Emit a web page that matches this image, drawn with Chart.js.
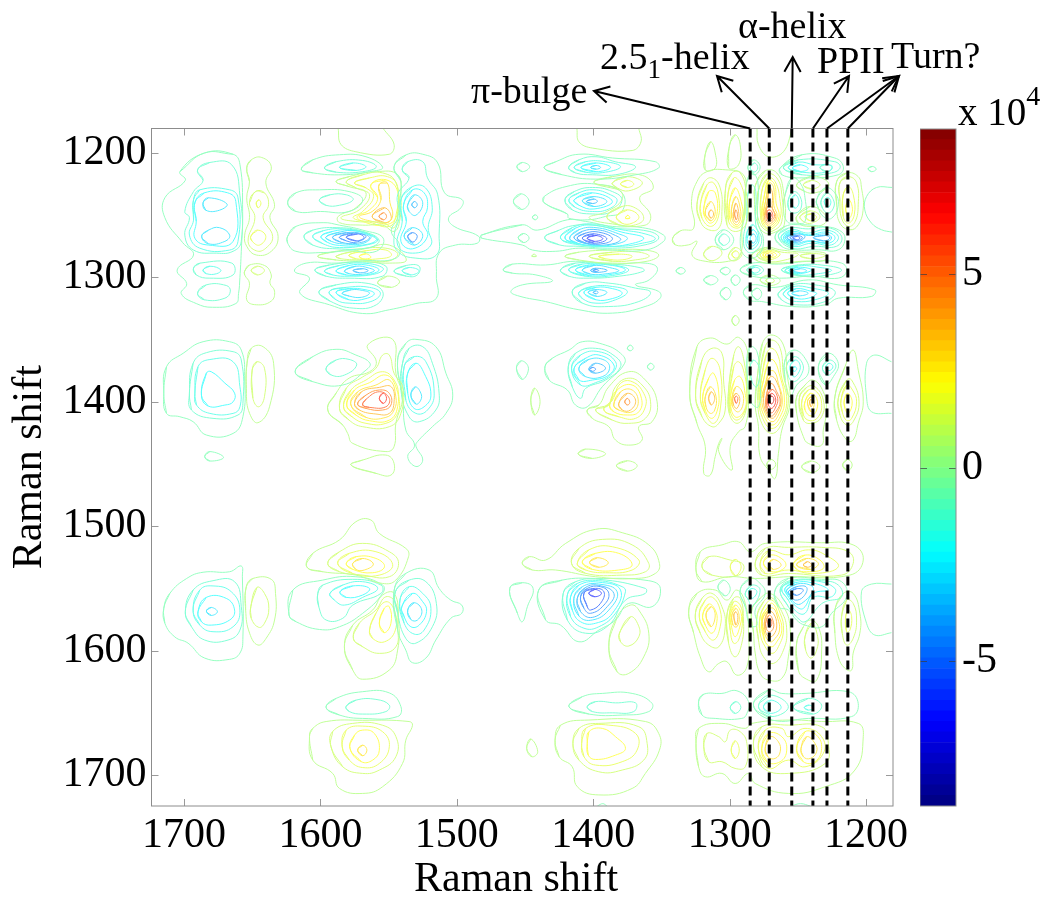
<!DOCTYPE html>
<html>
<head>
<meta charset="utf-8">
<title>Raman shift contour map</title>
<script src="https://cdn.jsdelivr.net/npm/chart.js@4"></script>
<style>
body { margin: 0; background: #fff; font-family: "Liberation Serif", serif; color: #000; }
#page { position: relative; width: 1050px; height: 907px; overflow: hidden; }
canvas { position: absolute; top: 0; }
.note { position: absolute; font-size: 38px; line-height: 40px; white-space: nowrap; }
.note sub { font-size: 27px; line-height: 0; }
.note sup { font-size: 28px; line-height: 0; vertical-align: 20px; }
</style>
</head>
<body>
<div id="page">
  <canvas id="graphContour" width="1050" height="907" style="left:0"></canvas>
  <canvas id="graphBar" width="130" height="907" style="left:920px"></canvas>
  <div class="note" style="left:471px;top:70px">π-bulge</div>
  <div class="note" style="left:600px;top:36px">2.5<sub>1</sub>-helix</div>
  <div class="note" style="left:738px;top:5px">α-helix</div>
  <div class="note" style="left:817px;top:40px">PPII</div>
  <div class="note" style="left:891px;top:35px">Turn?</div>
  <div class="note" style="left:958px;top:92px;font-size:39px">x 10<sup>4</sup></div>
  <div class="note" style="left:414px;top:857px;font-size:42px">Raman shift</div>
</div>
<script>
// every contour is [level, x,y, x,y, ...] in Raman shift units, level counts contour steps from zero
var helixShifts = [1285, 1271, 1254.5, 1239, 1228.7, 1213.4];
var xTickStep = 100;
var yTickStep = 100;
var xRange = [1180.3, 1723.8];
var yRange = [1180.3, 1724.9];
var levelStep = 0.55;
var deepLevelStep = 0.9;
var barRange = [-8.76, 8.76];
var barSteps = 64;
var barTickStep = 5;

var row1250Left = [
[-1,1685,1200,1664,1201,1659,1209,1657,1247,1658,1279,1659,1300,1660,1313,1662,1321,1679,1324,1691,1321,1702,1313,1698,1305,1705,1294,1693,1282,1701,1272,1714,1252,1714,1236,1699,1222,1703,1215],
[-2,1690,1213.5,1686,1222,1693,1231,1699.4,1247,1696,1252,1699.4,1266,1693,1278,1676,1280.5,1664,1279,1658,1271,1659,1234,1665,1209.5,1681,1207.6],
[-3,1693,1237.6,1688.4,1229.6,1666.5,1229.6,1660.4,1236,1660.4,1271,1666.5,1278,1688.4,1276.5,1696,1266,1693,1254],
[-4,1692,1240,1685,1232,1668,1232,1662,1239,1664,1271,1682,1274,1692,1268.5,1691,1255],
[-5,1686,1240,1682,1236,1668.5,1241,1674,1246,1684,1246],
[-5,1687,1267,1682,1262,1674,1260,1666.5,1266,1670,1271,1682,1273],
[-2,1693,1292.5,1688,1288.5,1665,1288.5,1664,1298,1681,1300.6,1691,1298],
[-3,1686,1294,1681,1291,1673,1294,1676,1297,1683.6,1297],
[-2,1690,1312.7,1683.6,1306,1669,1306.5,1666,1311,1670,1316.7,1685,1318],
[1,1654,1212,1650.7,1205.5,1643,1203.6,1636,1211,1640,1224,1633.6,1241.6,1637,1252,1631,1267,1636,1279,1647,1282,1654,1275,1655.5,1266,1652,1252,1654,1236,1652,1223],
[2,1647.5,1231,1641,1232,1638,1241.6,1642,1252,1635,1267,1640,1276.5,1647,1278.6,1653,1271,1648,1252,1652,1240],
[3,1647,1240,1645,1237.6,1643.6,1241,1645.8,1244],
[3,1651,1267,1646,1262,1640,1267,1644.6,1274,1650,1271],
[1,1655.5,1295,1652,1290,1641,1290.4,1636,1298,1637,1304.6,1633.6,1311,1636,1319,1647,1322,1654,1318,1652,1304.6,1655.5,1298],
[2,1650.7,1294.4,1646,1291,1641,1294.4,1646,1298]
];

var row1250Centre = [
[-1,1614,1213,1605.6,1205.5,1586,1201.4,1566.6,1203,1554.4,1211.6,1564,1215,1583.6,1217.5,1605.6,1216],
[-2,1597,1212,1588.5,1207,1569,1206,1559,1211,1569,1215,1588.5,1215.4],
[-3,1586,1211.6,1576,1208,1566.6,1211,1574,1214],
[-1,1546,1211,1537,1201.4,1525,1201,1514,1208,1509,1232,1496,1237.6,1497,1244,1506,1252,1502,1259,1484,1267,1485,1272.5,1501,1274,1513,1280.5,1515,1298,1515,1316.7,1530,1321,1549.5,1326,1569,1329,1593.4,1322,1615,1312.7,1608,1300.6,1619,1295,1610.5,1288.5,1588.5,1288.5,1569,1286.7,1544.6,1284.5,1542,1274,1548,1263,1543.4,1252,1542,1239,1541,1223],
[-2,1540,1213.5,1536,1207,1525,1207,1521.5,1220,1514,1233.6,1513,1266,1515,1282,1530,1284.5,1543.4,1279,1546,1267,1542,1250,1543.4,1233.6,1535,1220],
[-3,1541,1237.6,1532.5,1227,1523,1228,1518,1244,1521,1260,1519,1274,1532.5,1280.5,1543.4,1274,1540,1255],
[-4,1539,1241.6,1532.5,1229.6,1524,1232,1521.5,1244,1525,1255,1521.5,1267,1532.5,1277,1541,1271,1537,1255],
[-5,1536,1241.6,1531,1233.6,1525,1240,1530,1250,1535,1247],
[-5,1538.6,1267,1532.5,1260,1525,1266,1531,1274],
[-7,1536,1267,1532.5,1264,1529,1267,1532.5,1271.7],
[-6,1533,1241.6,1531,1239,1529,1241.6,1531,1244],
[-2,1546,1295,1537,1290.4,1527.6,1291,1529,1298,1537,1299],
[-3,1540,1294.7,1535,1292,1527.6,1294.7,1533.7,1298],
[1,1558,1304.6,1551,1299,1542,1303,1548,1308],
[-1,1624,1240,1618,1232,1600.7,1229.6,1579,1231,1569,1237.6,1579,1247,1600,1247,1618,1247],
[-2,1600.7,1237.6,1593,1233.6,1581,1233.6,1576,1237.6,1586,1242,1596,1242],
[-1,1624,1267,1618,1259,1598,1256,1586,1258,1569,1262,1554,1268.4,1559,1279,1579,1278.6,1598,1280,1618,1279,1624,1272.5],
[-2,1612,1267,1605.6,1262,1588.5,1260,1569,1263,1557,1270,1564,1276,1588.5,1277,1605.6,1274],
[-3,1605.6,1267,1598,1262.5,1583.6,1261,1566.6,1264.4,1558,1270,1566.6,1274,1586,1276,1598,1273],
[-4,1599.5,1267,1591,1263,1579,1262,1564,1266,1559,1270,1569,1274,1586,1274.3,1595,1271.7],
[-5,1596,1267.6,1586,1263.6,1574,1262.5,1563,1267,1569,1272.7,1583.6,1273,1592,1271],
[-6,1591,1267.6,1581,1264,1569,1265,1564,1268.4,1573,1272.5,1585,1271.7],
[-7,1586,1267.6,1576,1264.4,1566.6,1267,1574,1271.7,1581,1270.6],
[-8,1581,1267.6,1572.6,1265,1568,1268,1574,1270.6],
[1,1602,1283,1588.5,1279,1566.6,1276.5,1549.5,1274,1537,1286,1549.5,1288.5,1569,1287,1588.5,1286],
[2,1588.5,1283,1574,1278.6,1557,1276,1543.4,1280.5,1549.5,1286.7,1569,1286,1585,1285],
[3,1579,1282,1566.6,1278.6,1552,1278,1548,1282.4,1557,1285,1574,1285],
[4,1571.5,1283,1566.6,1281,1563,1284,1569,1285],
[-2,1604,1294,1593.4,1290,1569,1287.7,1552,1291,1554.4,1299,1579,1300.6,1596,1299],
[-3,1597,1294.7,1586,1290.4,1569,1288.5,1554,1292.6,1559,1297,1579,1299,1591,1298],
[-4,1588.5,1294.7,1579,1290.4,1566.6,1290,1557,1294,1566.6,1298,1581,1298],
[-5,1582.4,1294.7,1574,1291,1564,1292.6,1560.5,1294.7,1569,1297.4,1579,1297],
[-6,1576,1294.4,1569,1293,1565,1294.7,1571.5,1296.3],
[-2,1601,1311.3,1588.5,1306,1566.6,1304.6,1554.4,1311.3,1559,1322,1576,1324.7,1593,1319],
[-3,1593.4,1311.3,1581,1308,1564,1308,1556,1312.7,1563,1319.4,1579,1320.7,1588.5,1318],
[-4,1588.5,1312,1579,1309,1566.6,1310,1560.5,1313,1566.6,1317,1579,1318],
[-5,1584,1312.7,1577.6,1310,1569,1310.5,1564,1312.7,1570,1316,1579,1315],
[1,1588.5,1223,1579,1219,1559,1215,1543.4,1217.5,1541,1233.6,1542,1255,1546,1263,1554.4,1258,1569,1258,1586,1256,1587,1251,1574,1244,1566.6,1232,1579,1227],
[2,1581,1223,1569,1217.5,1554.4,1216,1544.6,1224,1543.4,1247,1546,1260,1554.4,1256,1574,1255,1585,1252,1571.5,1245.7,1564,1233.6,1574,1228],
[3,1575,1224,1564,1220,1550.8,1219,1543.4,1227,1544.6,1250,1549.5,1259,1564,1255.6,1576,1252,1569,1247,1561,1235,1566.6,1228],
[4,1563,1225.6,1552,1221.5,1543.4,1231,1544.6,1252,1554.4,1258,1569,1255,1573,1251,1564,1245.7,1558,1236],
[5,1557,1225.6,1551,1224,1549,1240,1547,1250,1551,1256,1562,1255,1571.5,1251,1562,1247,1555.6,1237.6],
[6,1562,1251,1553,1244,1548,1252.4,1553,1256],
[7,1557,1251,1553.7,1248,1551.5,1251,1553.7,1253.7]
];

var row1250Mid = [
[-1,1456,1211,1452,1207.6,1446.6,1211,1452,1215],
[-1,1436,1212,1427.5,1207,1410.5,1201,1386,1204,1354.5,1207,1352,1212,1369,1217.5,1398,1221,1422.7,1217.5],
[-2,1418,1211.6,1410.5,1205.5,1398,1203,1384,1207,1369,1211,1381,1217,1400.7,1217.5,1413,1216],
[-3,1414,1211.6,1405.6,1207,1391,1207,1380,1211,1391,1215.4,1405.6,1215.4],
[-4,1409,1211.6,1398,1208,1387.3,1211.6,1398,1215],
[-5,1402,1211.6,1398,1210,1394.6,1211.6,1398,1213],
[1,1399.5,1223.7,1386,1219,1364,1218,1356,1228,1366,1236,1358,1250,1362,1258,1386,1257,1403,1252,1390,1247,1379,1237.6,1381,1229.6],
[2,1386,1224,1375,1219,1364,1224,1374,1230.4,1382.5,1228],
[3,1380,1224.8,1375,1222,1370.3,1225,1375,1227.7],
[2,1390,1251,1379,1243,1369,1244.3,1363,1252.4,1369,1257.7,1381.3,1257.7],
[3,1383,1251,1375,1245.7,1366.6,1251,1371.5,1256.4,1379,1256.4],
[4,1376.4,1252.4,1374.7,1250,1373.2,1252.4],
[-1,1436,1240,1436,1235,1420,1227,1398,1225,1379,1232,1379,1247,1391,1251,1404,1253.7,1418,1252.4,1419,1249],
[-2,1420.7,1237.6,1414,1231,1400.7,1227.7,1386,1231,1379,1237.6,1386,1247,1400.7,1249,1415.4,1245.7],
[-3,1417.8,1237.6,1410.5,1232,1399.5,1229.6,1387.3,1233.6,1382.5,1238.4,1388.6,1245,1400.7,1247,1413,1243.8],
[-4,1414,1237.6,1400.7,1232,1386,1239,1399.5,1245,1410.5,1242],
[-5,1408,1238.4,1399.5,1235,1390,1239,1399.5,1243],
[-6,1405,1239,1399.5,1237,1397,1239,1400.7,1240.6],
[-1,1458.5,1239,1453,1232.8,1447,1239,1452.4,1245.4],
[-1,1444.6,1251.6,1442.6,1249.7,1440.7,1251.6,1442.6,1253.7],
[-1,1482,1266,1452,1257.7,1441,1262,1419,1253.7,1405.6,1255,1386,1259,1364,1260,1348.4,1266,1348.4,1271,1362,1278,1386,1278,1410.5,1276.5,1427.5,1279,1444.6,1278,1452,1274,1482,1268.4],
[-1,1455,1268,1451,1264.7,1447,1268.4,1451,1272],
[-2,1435.6,1268,1425,1262,1415.4,1258.5,1403,1257.7,1386,1260.4,1359,1263,1352,1268.4,1362,1273.8,1386,1276.5,1410.5,1275,1425,1273.8],
[-3,1424,1268.4,1415.4,1260,1400.7,1257,1379,1261.7,1362,1265,1354.5,1269,1364,1272.5,1381,1275,1410.5,1273.8],
[-4,1420.7,1268.4,1413,1260.4,1399.5,1258,1379,1263.6,1363,1268.4,1376,1273.8,1393,1275,1410.5,1273],
[-5,1417.3,1268.4,1410.5,1261.7,1398,1260,1381.3,1265,1375,1269,1386,1273.8,1400.7,1274.3,1411.7,1272.5],
[-6,1414,1268.4,1408,1263,1397,1261.7,1383.7,1266.3,1380,1270,1390,1273.8,1403,1273.3],
[-7,1411.7,1268.4,1405.6,1264.4,1396,1263.6,1386,1268.4,1391,1272.5,1405.6,1272.5],
[-8,1408,1268.4,1399.5,1265,1390,1269,1399.5,1272.5],
[-9,1404.4,1268.4,1398,1266.3,1393,1269,1399.5,1271],
[1,1420.7,1283,1410.5,1279.7,1386,1278,1362,1278,1352,1282,1360.5,1287,1386,1288.5,1410.5,1286],
[2,1403,1283,1386,1279.7,1366.6,1279.7,1359,1283,1369,1285.9,1386,1287],
[3,1396,1283,1381,1281.3,1371.5,1283,1378.8,1285.9,1391,1285],
[1,1445,1283,1443.4,1281.3,1441.7,1283],
[-1,1466,1294,1459.2,1289.3,1435,1290,1413,1287,1386,1289.3,1362,1288.5,1353,1292.6,1359,1302,1369,1306,1352,1311.3,1351,1316.7,1362,1323.4,1386,1328.7,1410.5,1326,1435,1319.4,1454.4,1315,1460.4,1311.3,1452,1306,1430,1303,1442,1298,1459.2,1296.6],
[-2,1424,1294,1413,1288.5,1386,1289.3,1364,1292.6,1363,1295,1381,1299,1403,1300.6,1418,1299],
[-3,1418,1294,1408,1289.3,1386,1290,1374,1294,1386,1298.5,1405.6,1299],
[-4,1413,1294,1403,1290,1386,1290.4,1376.4,1294,1386,1297.4,1403,1298.5],
[-5,1408,1294,1399.5,1290.4,1386,1292.6,1381.3,1294.7,1389.8,1297,1402,1297.4],
[-6,1402,1294.4,1398,1292.6,1389.8,1294.4,1398,1296],
[-7,1400,1294.4,1398,1293.6,1396,1294.4,1398,1295.2],
[-1,1339.3,1294.7,1336,1292,1332.5,1294.7,1336,1297.4],
[-2,1415.4,1311.3,1405.6,1304.6,1388.6,1304.6,1369,1308.6,1358,1312,1366.6,1319.4,1388.6,1323.4,1408,1320.7],
[-3,1410.5,1312,1400.7,1307.3,1386,1307.3,1375,1311.3,1383.7,1318,1398,1320.7,1408,1317],
[-4,1406.8,1312,1398,1308,1386,1309,1378.8,1312.7,1386,1317,1398,1318],
[-5,1403.7,1312,1398,1309.7,1390,1312,1397,1315.3],
[-6,1400,1312,1398,1310.8,1396.4,1312,1398,1313.2]
];

var row1250Right = [
[1,1318,1201.4,1314,1191,1310.6,1200,1310.6,1212,1318,1213.5],
[1,1300,1193.4,1296,1185.4,1292.3,1193.4,1293.5,1209.5,1300.8,1212],
[1,1341.8,1268.4,1336,1262.5,1326.4,1260.4,1328,1239,1324,1223,1316.7,1215,1303.3,1213.5,1290,1217.5,1288.6,1233.6,1291,1260.4,1292.3,1282,1300.8,1287,1318,1287,1327.6,1282,1324,1271,1330,1273.8,1340,1273.8],
[2,1324,1241.6,1319,1224,1313,1220,1307,1228,1305.7,1247,1308,1260.4,1315.5,1261.7,1321.5,1255],
[3,1321.5,1241.6,1316.7,1225.6,1311.8,1224,1308,1236,1308.6,1252.4,1314,1259,1320.3,1252.4],
[4,1319,1244.3,1315.4,1231,1310.6,1232,1309.4,1249.7,1314,1256.4,1318.4,1251],
[5,1318,1248.3,1314,1239,1310.6,1247,1313.7,1254.5],
[6,1315.4,1249,1313.7,1245.7,1311.8,1249,1313.7,1252.4],
[2,1303,1228,1298.4,1216,1292.3,1216,1288,1231,1287.4,1255,1294.7,1263,1302,1257.7],
[3,1301.3,1233.6,1297,1220,1292.3,1224,1289,1239,1290,1255,1294.7,1260.4,1300.8,1255],
[4,1300,1239,1296,1228,1291.6,1239,1290.6,1252.4,1294.7,1259,1299.6,1253.7],
[5,1298.4,1243,1295.5,1235,1292.3,1244.3,1292.3,1253.7,1295.2,1257.7,1298.4,1252.4],
[6,1297.2,1247,1295.5,1240.3,1293.5,1247,1293.5,1253.7,1295.5,1255.6,1297.2,1252.4],
[7,1296.4,1249,1295.5,1245.7,1294.3,1249.7,1295.2,1253.7],
[-1,1310.6,1269.8,1304.5,1261.7,1297,1269.8,1304.5,1277.8],
[-2,1308,1269.8,1304.5,1265,1300,1269.8,1304.5,1274.3],
[2,1319,1280.5,1313,1275,1305.7,1279.7,1310.6,1286,1316.7,1285.3],
[2,1300.8,1282,1296,1276,1291,1280.5,1294.7,1286,1299.6,1286],
[3,1298.4,1281.3,1295.5,1278.6,1293,1282,1296,1284.5],
[-1,1288,1225.6,1283.8,1216,1279.4,1223,1279.4,1255,1275.2,1271,1280,1283,1288.6,1283,1292.3,1271,1289,1249.7],
[-2,1286.7,1233.6,1283.8,1225.6,1280.9,1231,1280.9,1257.7,1276.5,1269.8,1281.3,1279,1287.4,1279,1289.9,1269.8,1287.4,1252.4],
[-3,1286,1260.4,1282.6,1257.7,1278.4,1268.4,1281.8,1276.5,1286.7,1276.5,1288,1268.4],
[-4,1285.5,1264.4,1282.6,1261.7,1279.4,1268.4,1282.3,1274.3,1286,1273.8,1287.2,1268.4],
[-5,1285,1268.4,1282.6,1265,1280.6,1269,1283,1272.5],
[-1,1286.7,1212,1282.6,1205.5,1277.7,1211,1281.8,1217.5],
[-2,1285,1212,1281.8,1208,1279.4,1212,1282.3,1215.4],
[-1,1263,1212,1247,1201.4,1223,1204,1216.7,1211,1220.4,1217.5,1247,1220,1261.8,1217.5],
[-2,1260.6,1212,1249.7,1205.5,1223,1207,1219,1211.6,1225.3,1216,1247,1217.5],
[-3,1257,1212,1249.7,1207.3,1237.5,1209.5,1225.3,1210,1227.7,1215,1247,1215.4],
[-4,1254,1212,1248.4,1209.5,1242.4,1212.7,1248.4,1214.8],
[-2,1233.8,1211.6,1229,1209,1224.8,1212,1229,1215],
[-1,1198.5,1212.7,1195.5,1210.8,1192.6,1213,1196,1215],
[1,1281,1225.6,1274,1214.3,1265.5,1216,1260.6,1231,1260,1257.7,1265.5,1263,1274,1264.4,1280,1255,1281.8,1239],
[2,1278.4,1228,1272.8,1217,1265.5,1220,1261.8,1233.6,1261.8,1255,1266.7,1261.7,1272.8,1262.5,1278.4,1255,1280,1241.6],
[3,1276.5,1231,1272,1220,1266.7,1223,1263,1239,1263,1252.4,1268,1260.4,1272.8,1261,1277,1253.7],
[4,1274.5,1233.6,1271.6,1222,1267,1225.6,1266,1240.3,1263.8,1251,1268.7,1259.3,1272.8,1260,1276.5,1251],
[5,1273.5,1237.6,1271,1224,1267.7,1228,1267.7,1242,1265.2,1251,1269,1257.7,1272.8,1258,1275.5,1251],
[6,1272.6,1240.3,1270.9,1227.7,1268.7,1232,1268.7,1244.3,1266.2,1251,1269.6,1256.4,1272.8,1256.6,1274.5,1250.2],
[7,1272.8,1244.3,1271,1242,1268.2,1245.7,1267.2,1251,1270,1255,1272.6,1255,1273.5,1249.7],
[8,1272.6,1247,1270.6,1245.7,1268.7,1248.3,1268.7,1251.8,1270.4,1253.7,1272.3,1253],
[9,1271.8,1249,1270.6,1248,1269.4,1250.2,1270.9,1251.8],
[1,1283.8,1282,1274,1276,1261.8,1278,1247,1279.7,1230,1280.5,1230,1286,1247,1287,1266.7,1288.5,1279,1287],
[2,1280,1282,1272.8,1277,1261.8,1279.7,1249.7,1281.3,1259.4,1286,1272.8,1287],
[3,1277.7,1282,1271.6,1278.4,1263,1281.3,1271.6,1286],
[4,1275.7,1282,1271.6,1279,1265.5,1282,1271.6,1284.5],
[5,1274,1282,1271,1280.2,1268,1282,1271.6,1283.7],
[2,1248.4,1282.6,1240,1280.8,1230,1282.4,1240,1285],
[-1,1266.7,1267,1259.4,1259,1247,1257.7,1232.6,1259,1220.4,1261.7,1215.5,1268.4,1220.4,1277.8,1235,1277.8,1252,1277.8,1262,1275],
[-2,1264.3,1267,1257,1260.4,1242.4,1261,1227.7,1260,1218,1267,1221.7,1275,1237.5,1275,1254.5,1276.5],
[-3,1262.3,1268,1254.5,1261.7,1242.4,1264.4,1230,1261.7,1220.4,1267,1225.3,1273.8,1240,1272.5,1253.3,1275],
[-4,1260.6,1268,1253.3,1263,1242.4,1265.8,1229,1263.6,1222.8,1268,1227.7,1272.5,1241,1271,1253.3,1273.8],
[-5,1259.4,1268,1252,1264.4,1242.4,1266.3,1229,1265.2,1225.3,1268.4,1230,1271.7,1242.4,1270.6,1252,1272.5],
[-6,1258,1268,1251.6,1265.2,1244.8,1267,1251,1271.7],
[-7,1255.7,1268,1250.9,1266.3,1246.7,1268,1250.9,1270.6],
[-8,1253.8,1268,1250.4,1267,1248.5,1268.4,1250.9,1269.8],
[-6,1238.7,1268,1230,1266.3,1226.5,1268.4,1231.4,1270.6],
[-1,1259.4,1233.6,1254.5,1220,1248.4,1224,1244.8,1236,1244.8,1255,1252,1256.4,1258,1255,1260.6,1244],
[-2,1257,1237.6,1253.3,1231,1248.4,1235,1247.7,1244.3,1252,1248.3,1256.5,1245.7],
[-3,1255.3,1239,1252,1233.6,1249.2,1239.5,1252,1244.3],
[1,1250.9,1251,1241,1243,1230,1249.7,1230,1256.4,1241,1259,1249.7,1256.4],
[2,1248.4,1251,1241,1246.5,1233.8,1251,1240,1256.4,1246,1255],
[3,1244.8,1251,1240.4,1248.9,1236.3,1251.8,1241,1254.5],
[1,1250.9,1225.6,1241,1219,1230,1221.5,1227.7,1227,1237.5,1232,1244.8,1231],
[2,1246,1225.6,1240,1222,1233.8,1225.6,1240,1229],
[-1,1236.3,1237.6,1230,1228,1223,1232,1220.4,1241.6,1225.3,1252.4,1231.4,1251,1235,1244.3],
[-2,1233,1238.4,1228.9,1232,1224,1237.6,1224,1244.3,1228,1248.3,1232,1244.3],
[-3,1230.7,1239,1228.2,1235.7,1225.8,1239.5,1228.2,1243.8],
[1,1221.6,1223,1214.3,1216,1205.8,1219,1203.4,1228,1202.1,1244.3,1205.8,1257.7,1211.8,1261.7,1219.2,1256.4,1221.6,1241.6],
[2,1219.2,1224,1213,1219,1207,1224,1205.8,1241.6,1208,1255,1213,1259,1218,1252.4,1219.2,1239],
[3,1216.8,1233.6,1213,1227,1209.4,1233.6,1208.7,1249.7,1213,1256.4,1216.8,1251],
[4,1215,1244.3,1212.6,1237.6,1210,1245.7,1212.6,1252.4],
[-1,1292.3,1294,1283.8,1288.5,1264.3,1289.3,1240,1287,1218,1288.5,1214.3,1295,1220.4,1300.6,1240,1299,1261.8,1300.6,1283.8,1299],
[-2,1287.4,1294,1280.9,1290.4,1275.2,1294,1280.9,1298],
[-3,1285,1294,1281.3,1291.8,1277.7,1294,1281.8,1296.6],
[-2,1262,1294,1249.7,1290,1230,1290.4,1218,1294,1227.7,1298,1247,1299],
[-3,1259.4,1294.4,1249.7,1290.7,1233.8,1292,1225.3,1294.4,1235,1297,1249.7,1298],
[-4,1256.5,1294.4,1249.7,1291.8,1240,1294,1249.7,1297],
[-5,1253.3,1294.7,1248.4,1293,1243.6,1294.7,1248.4,1296.3],
[-1,1319,1302,1314,1298.5,1308.6,1302,1314,1306],
[-1,1307,1294.7,1303,1291.8,1299.6,1294.7,1303,1298],
[-1,1299,1302,1296,1298,1292.3,1302,1296,1306.5],
[-1,1307,1312.7,1302.8,1308,1299,1312.7,1302.8,1318],
[1,1277.7,1302,1270.4,1298,1263,1302.7,1270.4,1306.5],
[2,1273.5,1302.5,1270.4,1300.3,1267.2,1302.7,1270.4,1304.6],
[-1,1289.9,1311.3,1283.8,1306,1266.7,1308,1242.4,1302,1220.4,1306,1193.6,1310,1196,1315.3,1220.4,1316.7,1230,1322,1254.5,1323.4,1276.5,1319.4,1286,1318],
[-2,1264.3,1312.7,1254.5,1306,1237.5,1306,1222.8,1311.3,1230,1319.4,1252,1322,1262,1318],
[-3,1260.6,1312.7,1253.3,1307.3,1240,1308.6,1227.7,1312.7,1237.5,1318,1251,1319.4,1258,1316.7],
[-4,1257.5,1312.7,1251,1309,1240,1311.3,1236.3,1313,1242.4,1316.7,1252,1316.7],
[-5,1254.5,1312.7,1249,1310.8,1242.4,1312.7,1249,1314.8],
[-1,1284,1312.7,1280,1308.6,1276.5,1313,1280,1318],
[1,1298.4,1334.6,1296,1330.6,1293,1334.6,1296,1338.7]
];

var row1400Left = [
[-1,1714.8,1393,1712.8,1371.8,1700.6,1361,1686,1351.7,1666.5,1351.7,1658,1358.4,1655.5,1382.5,1656.8,1412,1664,1425.4,1683.6,1426.7,1693.3,1416,1703,1412,1712.8,1409.3],
[-2,1696,1393,1693.3,1369,1683.6,1360.5,1664,1359.7,1658,1366.4,1656.8,1401.3,1660.4,1410.6,1678.7,1413.3,1694.5,1406.6],
[-3,1692,1393,1689.7,1371.8,1681,1366,1664,1367.8,1659,1387.9,1659,1404,1664,1409.3,1681,1409.3,1690.8,1402.6],
[-4,1687.2,1394.6,1683.6,1377,1680,1375.8,1670,1385,1662.9,1393,1664,1400,1670,1402.6,1682.3,1403.4],
[-1,1684.8,1444,1681,1440,1671,1444.7,1681,1447.6],
[1,1653.8,1369,1650.7,1357,1642,1355.7,1634.3,1369,1637.3,1404,1645.8,1416.8,1651.9,1409.3,1654.3,1393],
[2,1650,1374.5,1646.5,1367.8,1641,1373,1641,1395.9,1645.3,1404,1649.5,1397],
[-1,1618.5,1375.8,1605.6,1363.7,1588.5,1357.8,1574,1362.4,1563.7,1369,1566.6,1374.5,1583.6,1386.5,1605.6,1383.8],
[-2,1595.8,1373,1588.5,1366.4,1579,1365.9,1573.4,1370.4,1582.4,1378.5,1592,1378.5],
[1,1594.6,1406.6,1588.5,1393,1579,1381,1564,1375.8,1559,1367.8,1565.4,1354.4,1547,1349.8,1544.7,1377,1539.8,1396,1544.7,1417.3,1546,1436,1552,1440,1576.3,1433.4,1580,1425.4,1583.6,1418.7],
[2,1586,1405.3,1581,1389,1569,1380,1559.3,1373,1554.4,1362.4,1549.5,1362.4,1546,1377,1539.8,1387.9,1541,1409.3,1549.5,1420,1569,1420,1579,1414.7],
[3,1583,1404,1577.6,1390.5,1566.6,1382.5,1554.4,1375.8,1546,1382.5,1542.5,1396,1543.4,1409.3,1552,1417.3,1566.6,1417.3,1576.3,1412.5],
[4,1580.7,1402.6,1575,1390.5,1564,1384.6,1552,1378.5,1544.7,1388,1543.4,1404,1549.5,1414.7,1564,1415.2,1574,1410.6],
[5,1577.6,1402.6,1572.7,1392,1559.3,1386.5,1549.5,1382.5,1544.7,1396,1546,1406.6,1552,1412.5,1566.6,1412.5],
[6,1575,1401.3,1570,1392,1556.8,1388.4,1548,1388,1546,1400,1549.5,1409.3,1559.3,1409.8,1571.5,1406.6],
[7,1572.7,1401.8,1566.6,1394.6,1556.8,1390.5,1549.5,1393.2,1548.3,1402.6,1554.4,1406.6,1566.6,1405.3],
[8,1569,1402.6,1566.6,1398,1556.8,1391.9,1549.5,1397.2,1552,1404,1564,1404.5],
[9,1556.8,1397.2,1554,1393,1551.5,1397.2,1554,1401.3],
[-1,1543.4,1366.4,1537.4,1353,1530,1349.8,1515.4,1355.7,1508,1377,1503,1394.6,1508,1409.3,1517.9,1420,1528.8,1432,1530,1435.6,1525,1446.8,1530,1452,1536,1444,1531,1434.8,1537.4,1422.7,1539.8,1396],
[-2,1539.8,1369,1535,1357,1525,1355.7,1517.9,1369,1513,1393,1515.4,1406.6,1527.6,1416,1535,1412,1541,1390.5],
[-3,1538.6,1371.8,1531.3,1363.7,1522.7,1367.8,1516.6,1393,1521.5,1406.6,1530,1409.3,1537.4,1398.6],
[-4,1536,1377,1530,1369,1524,1377,1519,1394.6,1524,1404,1531.3,1405.3,1536,1393],
[-5,1533.7,1394.6,1530.5,1388,1526.4,1393,1526.4,1398.6,1530,1401.8],
[1,1577.6,1450.8,1569,1446.8,1552,1442.8,1546,1449.5,1548.3,1458.9,1559.3,1457.5]
];

var row1400Mid = [
[-1,1456.3,1373,1452.7,1367,1447.5,1373,1452,1382],
[1,1445.8,1398.6,1443,1389,1439,1400,1443,1410.6],
[-1,1375,1357,1373,1354.4,1370.8,1357,1373,1359],
[-1,1360.3,1371.8,1358,1369,1355.4,1371.8,1358,1374.5],
[-1,1435.4,1371.8,1430,1365,1417.8,1358.4,1408,1351.7,1393.4,1353.6,1380,1361,1377,1369,1393.4,1387.9,1404.4,1404,1413,1402.6,1419,1390.5,1432.4,1382.5],
[-2,1418.3,1371.8,1413,1361,1398.3,1357,1383.7,1363.7,1380,1371.8,1391,1382.5,1405.6,1389.2,1409.3,1397.2,1415.4,1387.9],
[-3,1415.9,1373,1409.3,1362.4,1395.9,1359.7,1383.7,1367.8,1386,1377,1398.3,1384.6,1409.3,1386.5],
[-4,1414,1373,1405.6,1365,1395.9,1362.4,1384.9,1370.4,1388.6,1378.5,1400.7,1382.5,1410.5,1382.5],
[-5,1410.5,1373,1403.2,1365.9,1392,1366.4,1388,1373,1393.4,1379.8,1405.6,1379.8],
[-6,1403.2,1373.9,1398.3,1369,1391,1373,1398.3,1377],
[-7,1402.7,1373.9,1400.3,1372.3,1398.3,1373.9,1400.7,1375.5],
[1,1404.4,1406.6,1395.9,1402.6,1388.6,1387.9,1374,1375.8,1361.8,1382.5,1353.2,1400,1356.9,1416,1366.6,1420,1364.2,1430.7,1374,1434.8,1383.7,1430.7,1388.6,1420,1400.7,1413.3],
[2,1398.3,1406.6,1388.6,1402.6,1383.7,1387.9,1374,1381,1364.2,1386.5,1358,1400,1361.8,1413.3,1374,1417.3,1386,1414.7],
[3,1392.2,1406.6,1386,1398.6,1380,1385.2,1371.5,1383.8,1363,1393.2,1361.8,1404,1369,1413.3,1381.3,1412],
[4,1388,1402.6,1382.5,1390.5,1371.5,1386.5,1364.7,1397.2,1366.6,1408,1375,1410.6,1385,1408],
[5,1385,1402.6,1380,1392,1371.5,1390.5,1367,1400,1371.5,1408,1381.3,1406.6],
[6,1381.3,1401.3,1375,1393.2,1369,1398.6,1372.7,1406.6,1378.8,1406.6],
[7,1376.9,1400,1375,1397.2,1373.2,1400.5,1375,1402.6],
[1,1411,1442,1405.6,1438,1391,1441.5,1400.8,1445.5],
[1,1383,1451.4,1375,1447.4,1367.8,1451.4,1375,1455.7]
];

var row1400Right = [
[1,1329.3,1393.2,1324,1355.7,1314.2,1348.7,1302,1353.6,1293.5,1348.2,1286.7,1361,1286,1396,1288.7,1420,1293.5,1424,1299.6,1436,1298.4,1454.9,1308,1440,1305.7,1429.4,1308,1433.4,1310.6,1444,1314.2,1458.9,1319,1457.5,1317.9,1436,1324,1417.3],
[2,1325,1394.6,1320.3,1366.4,1313,1357,1305.7,1361,1304.5,1382.5,1303.3,1406.6,1308,1417.3,1313,1420,1320.3,1412],
[3,1321.5,1396,1318,1374.5,1313,1365,1307,1374.5,1307,1406.6,1311.8,1417.3,1318,1409.3],
[4,1319.8,1396,1315.4,1381,1311.8,1377,1308,1393,1309.4,1408,1313.5,1413.3,1318,1406.6],
[5,1317.9,1396,1314.2,1387.9,1310,1396,1311,1406.6,1314.2,1409.3,1317.4,1404],
[6,1315.4,1397.2,1313.5,1391.9,1311,1397.2,1313.5,1402.6],
[2,1300.8,1390.5,1297,1362.4,1293.5,1355.7,1289.9,1365,1287.4,1390.5,1288.7,1409.3,1294.7,1417.3,1300.3,1409.3],
[3,1300.3,1396,1297,1371.8,1293.5,1367.8,1289.9,1374.5,1287.4,1393.2,1288.7,1406.6,1294.7,1414.7,1299.6,1408],
[4,1299.6,1397.2,1296.4,1382.5,1292.3,1379.8,1288.7,1393.2,1288.7,1405.3,1294.7,1412.5,1298.9,1406.6],
[5,1298.4,1397.2,1295.5,1387.9,1291.5,1390.5,1289.9,1400,1293.5,1408,1297.9,1404],
[6,1297.7,1397.2,1295.5,1393.2,1292.6,1397.2,1294.7,1405.3,1297.2,1402.6],
[8,1296.4,1397.2,1295.2,1395.4,1294,1397.2,1295.2,1401.3],
[-1,1287.4,1369,1285,1355.7,1280,1359.7,1277.7,1382.5,1278.9,1404,1285,1398.6],
[-2,1285,1371.8,1282.6,1366.4,1278.4,1373,1280,1387.9,1283.7,1383.8],
[1,1279.4,1377,1276,1353,1269,1346.3,1260.6,1354.4,1258,1377,1255.8,1401.3,1261.8,1422.7,1264.3,1441.5,1266.7,1461.6,1271.6,1454.9,1277.7,1444,1278.9,1420,1281.3,1401.3],
[2,1277.7,1377,1274,1355.7,1269,1350.3,1263,1357,1260.6,1378.5,1257,1398.6,1261.8,1417.3,1269,1425.4,1276.5,1417.3,1279.4,1398.6],
[3,1276,1377,1272.8,1361,1269,1357,1264.3,1363.7,1262.3,1378.5,1258.2,1398.6,1262.3,1414.7,1269,1421.4,1275.2,1414.7,1278.4,1398.6],
[4,1275.2,1382.5,1271.6,1367.8,1268,1366.4,1263.8,1377,1259.9,1398.6,1263,1412,1269,1418.7,1274.5,1412,1277.7,1397.2],
[5,1274,1386.5,1271,1375.8,1267.2,1375.8,1264.3,1385.2,1261.4,1398.6,1264.3,1410.6,1269,1416,1274,1409.3,1276.5,1397.2],
[6,1274,1389.2,1270.3,1379.8,1266.2,1382.5,1262.3,1398.6,1265.5,1409.3,1269,1413.3,1273.5,1408,1275.2,1397.2],
[7,1272.8,1393.2,1269.6,1385.2,1265.5,1391.9,1263,1400,1266.2,1408,1269.6,1411.4,1273.3,1405.3],
[8,1272.8,1396,1269,1390,1264.8,1397.2,1266.7,1405.3,1269.6,1408.8,1272.8,1402.6],
[9,1272,1397.2,1269,1393.2,1266.2,1398.6,1269,1405.3,1271.6,1402.6],
[10,1271,1397.2,1269,1395.4,1267.6,1398.6,1269.6,1401.8],
[-1,1259.4,1366.4,1253.3,1358.4,1244.8,1365,1242.4,1377,1250.9,1386.5,1255.8,1396,1259.4,1382.5],
[-2,1258.2,1370.4,1252.6,1363.7,1246.7,1369,1247,1377,1252.6,1383.8,1257,1379.8],
[-3,1255.8,1371.8,1252,1366.4,1248.4,1370.4,1249.7,1377,1253.3,1379.8],
[-4,1254,1373,1252,1371.8,1250.9,1373.9,1253,1375.5],
[-1,1235,1371.8,1227.7,1361,1220.4,1369,1224,1379.8,1230,1386.5],
[-2,1232,1372.3,1227.2,1366.4,1222.2,1370.4,1225.3,1377,1229,1378.5],
[-3,1229.7,1372.3,1227.2,1369,1224.3,1371.8,1227.2,1375],
[1,1250.9,1396,1244.8,1386.5,1238.7,1382.5,1231.4,1391.9,1229,1406.6,1231.4,1422.7,1232.6,1434.8,1242.4,1433.4,1246,1428,1250.9,1409.3],
[2,1249,1397.2,1243.6,1388.4,1237.5,1387.9,1231.4,1398.6,1232.6,1412,1240,1417.3,1246,1414.7],
[3,1247,1398.6,1242.4,1390.5,1236.3,1391.9,1232.6,1401.3,1235,1412,1241,1415.2,1246,1410.6],
[4,1244.8,1400,1241,1393.2,1236.3,1397.2,1236.3,1406.6,1240.4,1411.4,1244.8,1406.6],
[5,1243,1400,1240.4,1396,1238,1400.7,1240.4,1408],
[6,1241.4,1400,1240.4,1398,1239.2,1400.7,1240.4,1404],
[1,1222.9,1396,1215.5,1371.8,1209.5,1358.4,1205.8,1374.5,1202.1,1400,1205.8,1417.3,1209.5,1430.7,1214.3,1430.7,1221.6,1414.7],
[2,1220.4,1397.2,1214.3,1382.5,1210.6,1382.5,1205.2,1400,1209.5,1416,1214.3,1418.7,1219.2,1410.6],
[3,1218.4,1398.6,1214.3,1386.5,1210,1390.5,1207,1400,1210.6,1413.3,1214.3,1415,1217.5,1408],
[4,1216,1398.6,1213.6,1393.2,1210.2,1400,1213,1409.3,1215.5,1405.3],
[1,1272.8,1450.3,1269.6,1446.3,1266.2,1450.3,1269.6,1454.3],
[1,1247.2,1452.2,1240.4,1447.6,1233.8,1452.2,1240.4,1457],
[1,1217.2,1450.8,1213.6,1446.3,1210.2,1450.8,1213.6,1455.4]
];

var row1570Left = [
[-1,1714.8,1566,1710.4,1554,1698,1542,1686,1537,1666.5,1536.6,1658,1532,1657.2,1540.6,1656.8,1589,1659,1602,1666.5,1607,1684.8,1606,1697,1594,1706.7,1589,1714,1578],
[-2,1699,1568.7,1693.3,1551.3,1678.7,1543.8,1662.9,1544.6,1658,1564.7,1659,1583.5,1667.7,1591.5,1684.8,1591.5,1694.5,1580.8],
[-3,1693.3,1567.4,1688.4,1551.3,1678.7,1548,1665.3,1552.7,1659,1567.4,1664,1580.8,1678.7,1584.8,1688.4,1579.5],
[-4,1689.7,1568.7,1683.6,1557.2,1669,1558,1662.9,1567.4,1666.5,1575.4,1680,1579.5,1687.2,1576.8],
[-5,1683.6,1568.2,1680,1565.3,1675.5,1568.7,1680,1571.7],
[1,1654.3,1548.6,1649.5,1542,1636,1542.7,1632.9,1554,1633.6,1575.4,1639.7,1590,1645.8,1595.5,1651.9,1586,1654.8,1567.4],
[2,1651,1564.7,1646.5,1549.2,1641,1554,1637.8,1566,1641,1578,1645.2,1581.3,1650.7,1574],
[1,1610,1532.6,1605.6,1521.8,1586,1511,1574,1496.4,1563,1495,1556.8,1505.8,1537.4,1517.8,1535.4,1524.5,1544.7,1543.3,1554.4,1546,1574,1539.3,1598.3,1536.6],
[2,1594.6,1529.9,1586,1520.5,1569,1513.8,1549.5,1520.5,1542.7,1529.9,1549.5,1540.6,1569,1539.3,1586,1536.6],
[3,1587.3,1529.9,1578.8,1521.8,1559.3,1520.5,1547,1531,1556.8,1539.3,1576.3,1538],
[4,1581,1529.9,1573.9,1524.5,1559.3,1525.9,1553,1532.6,1561.7,1537.4,1576.3,1534.7],
[5,1576.3,1529.9,1569,1525.9,1561.2,1530.4,1567.8,1535.2,1574,1534.7],
[-1,1623,1571.4,1620.2,1551.3,1598.3,1543.3,1574,1540.6,1554.4,1547.3,1554.4,1554,1569,1570,1586,1580.8,1600.7,1583,1617.8,1576.8],
[-2,1601.9,1554,1598.3,1547.3,1576.3,1542.7,1555.6,1547.3,1555.6,1554,1576.3,1563.4,1583.6,1574,1595.8,1575.4,1601.2,1564.7],
[-3,1593,1554,1583.6,1547.3,1569,1544.6,1558,1550,1569,1557.2,1582.4,1563.4,1589.8,1559.4],
[-4,1585.6,1552.7,1576.3,1548,1564,1550,1569,1555.3,1581.2,1557.2],
[-1,1545.9,1551.3,1537.4,1537.9,1520.3,1535.2,1513,1550,1504.4,1559.4,1496.4,1563.4,1496.4,1570,1504.4,1574,1515.4,1591.5,1522.7,1606,1532.5,1609.7,1537.4,1599.6,1543.4,1583.5],
[-2,1545,1552.7,1534.9,1543.3,1522.7,1544.6,1515,1562,1517.9,1580.8,1530,1594,1537.4,1590.2,1543.4,1570],
[-3,1541.7,1559.4,1534.9,1548.6,1525,1554,1519,1566,1524,1583.5,1531.3,1586.7,1538.6,1578],
[-4,1540.3,1564.7,1532.5,1554,1525,1560.7,1522.2,1568.7,1527.6,1579.5,1533.7,1580.8,1538.6,1572.8],
[-5,1536,1567.4,1531.3,1561.5,1525.7,1567.4,1528.8,1575.4,1533.7,1575],
[1,1582.4,1596.9,1576.3,1579.5,1561.7,1567.4,1554.4,1555.3,1545.9,1554,1542.7,1575.4,1543.4,1599.6,1549.5,1615.6,1569,1623,1576.3,1615.6],
[2,1575.8,1590.2,1571.5,1578,1559.3,1567.4,1552,1556.7,1544.7,1562,1543.4,1580.8,1544.7,1596.9,1556.8,1602.2,1569,1596.9],
[3,1564,1583.5,1559.3,1570,1552,1560.7,1545.9,1567.4,1545.1,1583.5,1553,1592.9,1561.7,1590.2],
[4,1556.8,1578,1553.2,1566,1549.5,1564.7,1548.3,1578,1553.2,1585.6]
];

var row1670Left = [
[-1,1595.8,1645.7,1588.5,1638.4,1569,1633,1549.5,1634,1541,1645,1543.4,1653,1569,1654.5,1586,1651.8],
[-2,1581.2,1645,1573.9,1639.8,1559.3,1639.2,1549.5,1643.8,1552,1649,1569,1651,1578.8,1649],
[1,1608,1669,1605.6,1662.5,1595.8,1657,1569,1656,1535,1657,1532.5,1660,1537.4,1672,1539.8,1690.7,1554.4,1709.4,1569,1714.8,1586,1710.8,1591,1698.7,1605.6,1688],
[2,1592.2,1677.3,1591,1665,1576.3,1658.5,1554.4,1660,1544.7,1669,1544.7,1685.3,1556.8,1696,1569,1698.7,1583.6,1693.4],
[3,1584,1677.3,1581.2,1664,1569,1660.7,1554.4,1665.2,1549.5,1677.3,1556.8,1690.7,1569,1694,1578.8,1688],
[4,1578.3,1678.6,1575,1668,1569,1663.9,1560.5,1666.6,1556.8,1680,1561.7,1688,1570,1689.3],
[5,1572.7,1680,1569,1676,1565.9,1680,1569,1684.5]
];

var row1570Mid = [
[1,1452,1529.9,1447,1524.5,1434.9,1527.2,1420.2,1513.8,1398.3,1502.5,1378.8,1505.2,1359.3,1515,1351.5,1529.9,1354.4,1537.9,1369,1542,1398.3,1540.6,1427.6,1535.2,1444.6,1535.2],
[2,1415.9,1529.9,1410.5,1517.8,1393.4,1510.6,1371.5,1515,1359.3,1529.9,1361.8,1536.6,1378.8,1539.3,1405.6,1537.9],
[3,1411.7,1529.9,1403.2,1519,1386,1516.5,1366.6,1527.2,1371.5,1535.2,1391,1537.4,1405.6,1535.2],
[4,1408,1528.5,1398.3,1521.8,1381.3,1521.8,1371.5,1531,1381.3,1535.2,1400.7,1534.7],
[5,1402.7,1529.3,1397,1525.3,1389,1529.3,1395.9,1533],
[-1,1461.2,1550,1452,1545.4,1444.1,1550,1448.3,1564.7,1452,1576.8,1455.6,1570],
[-1,1440,1551.3,1422.7,1543.3,1398.3,1542,1359.3,1543.8,1350.8,1550,1356.9,1564.7,1374,1562,1383.7,1575.4,1395.9,1583.5,1410.5,1592.9,1424,1579.5,1434.9,1575.4],
[-2,1422,1554,1413,1544.6,1395.9,1542.7,1361.8,1550,1361.8,1554,1376.4,1559.4,1388.6,1579.5,1405.6,1586,1419,1575.4],
[-3,1419,1555.3,1411.7,1546,1395.9,1543.8,1378.8,1548.6,1376.4,1552.7,1383.7,1570,1395.9,1580.8,1406.8,1582,1416.6,1572.8],
[-4,1416.6,1556.7,1410.5,1547.3,1395.9,1545,1380,1551.3,1386,1570,1398.3,1578,1409.3,1576.8,1415.4,1567.4],
[-5,1414.2,1558,1408,1548.6,1395.9,1546.5,1382.5,1552.7,1388.6,1567.4,1400.7,1575.4,1410.5,1572.2],
[-6,1411.7,1558,1405.6,1549.2,1395.9,1547.6,1384.9,1554,1389.8,1564.7,1400.7,1573.3,1409.3,1568.7],
[-7,1409.3,1556.7,1404.4,1550,1394.7,1548.6,1388.6,1554,1392.2,1563.4,1402,1570,1406.8,1566],
[-8,1406.8,1554,1399.5,1550,1392.2,1552.7,1394.7,1562,1402,1567.4,1404.4,1564.7],
[-9,1403.2,1554,1398.8,1550.8,1394,1554,1398.8,1556.7],
[1,1388.6,1596.9,1382.5,1572.8,1372.7,1563.4,1366.6,1567.4,1359.3,1586,1363,1605,1374,1618.3,1382.5,1617],
[2,1380.8,1586,1372.7,1572.8,1367,1579.5,1366.6,1588.8,1374,1596.3,1380,1592.9],
[-1,1417.8,1645,1408,1637,1393.4,1634.4,1371.5,1634.4,1356.9,1642.4,1359.3,1649,1378.8,1651.8,1403.2,1651],
[-2,1404.4,1645,1398.3,1641,1383.7,1642,1369,1642,1370.3,1649,1386,1650,1400.7,1649],
[1,1428,1672,1424,1660,1403.2,1655.8,1361.8,1657,1352,1666.6,1351.5,1680,1361.8,1698.7,1371.5,1710.8,1395.9,1716,1411.7,1709.4,1415.4,1693.4,1425,1685.3],
[2,1414.9,1674.6,1410.5,1662.5,1395.9,1658.5,1366.6,1661.2,1360.5,1674.6,1363,1688,1378.8,1696,1395.9,1697.4,1410.5,1688],
[3,1408.5,1674.6,1405.6,1662.5,1388.6,1659.9,1369,1666.6,1367.9,1680,1378.8,1689.3,1398.3,1692,1406.8,1685.3],
[4,1404.4,1674.6,1403.2,1665.2,1393.4,1662.5,1383.7,1669.2,1376.4,1678.6,1383.7,1684,1398.3,1687.5,1403.7,1684],
[1,1448.8,1678.6,1445.8,1671,1440.7,1681.3,1445,1685.3]
];

var row1570Right = [
[1,1324.7,1535.2,1321.6,1520.5,1305.7,1515,1293.5,1512.5,1285,1520.5,1274,1513.8,1232.6,1513.3,1209.5,1515,1202.1,1527.2,1211.9,1539.3,1257,1540.6,1281.3,1542,1300.8,1540.6,1320.3,1544.6],
[2,1320.3,1532.6,1315.4,1524.5,1299.6,1527.2,1289.9,1531.2,1293.5,1539.3,1313,1539.3],
[3,1299.6,1532.6,1296,1526.7,1291.6,1532.6,1296,1539.8],
[2,1281.3,1529.9,1274,1517.8,1257,1517,1232.6,1517,1213,1520.5,1209.5,1529.9,1218,1539.3,1257,1538,1276.5,1539.3],
[3,1277.7,1529.9,1271.6,1519.7,1257,1523,1242.4,1519,1230,1523,1220.4,1532.6,1237.5,1538,1257,1535.2,1274,1538],
[4,1275.2,1529.9,1270.4,1523.2,1260.6,1527.2,1259.4,1533,1269,1536.6],
[5,1271.6,1530.4,1268,1526.7,1262.3,1531.2,1268,1534.7],
[4,1253.3,1529.9,1244.8,1523.2,1233.8,1527.2,1231.4,1534,1243.6,1536.6,1250.9,1534.7],
[5,1250.9,1531.2,1243.6,1525.9,1235,1529.9,1241,1534.7],
[6,1246,1531.2,1243,1528.5,1240,1531.2,1243,1533],
[-1,1308.6,1549.2,1304.5,1543.3,1299.6,1550,1303.3,1556],
[-1,1292.3,1551.3,1285,1542,1279,1544.6,1274,1554,1281.3,1567.4,1280,1579.5,1285,1579.5,1288.6,1564.7],
[-2,1288.6,1554,1283.7,1547.3,1277.7,1551.3,1283.7,1564.7,1286.2,1559.4],
[-3,1286.2,1552.7,1283.7,1550,1280,1552.7,1283.7,1558],
[-1,1266.7,1551.3,1257,1542,1232.6,1542.7,1218,1544.6,1214.3,1556.7,1225.3,1570,1232.6,1580.8,1244.8,1579.5,1251,1575.4,1257,1567.4,1264.3,1564.7],
[-2,1263,1551.3,1255.8,1543.8,1232.6,1543.8,1220.4,1547.3,1218,1556.7,1230,1560.7,1235,1564.7,1244.8,1576.8,1251,1572.8,1257,1564.7],
[-3,1261.8,1550,1254.5,1544.6,1237.5,1543.8,1222.9,1550,1225.3,1556.7,1238.7,1557.2,1244.8,1570,1251,1568.7,1257,1559.4],
[-4,1259.4,1550,1252,1545.4,1240,1545.4,1227.7,1551.3,1238.7,1554,1246,1566,1251,1564.7,1257,1556.7],
[-5,1258.2,1551.3,1250.9,1546.5,1241,1547.3,1238.7,1551.3,1247.2,1562,1252,1562,1256.5,1555.3],
[-6,1257,1552.7,1250.9,1548.6,1243.6,1549.2,1246,1556.7,1252,1559.4,1255,1556],
[-7,1255,1552.7,1250.9,1550.2,1246,1551.3,1250.9,1555.6],
[1,1330,1567.4,1324,1554,1310.6,1551.3,1302,1559.4,1294.8,1551.3,1288.6,1562,1286.2,1586,1287.4,1613,1294.8,1619.7,1302,1609,1308,1610.3,1315.4,1617,1321.6,1605,1326.4,1586],
[2,1325.2,1571.4,1320.3,1558,1313,1554,1305.7,1564.7,1303.3,1580.8,1308,1596.9,1315.4,1595.5,1321.6,1586],
[3,1322.3,1571.4,1317.9,1559.4,1312.5,1557.2,1307,1567.4,1307,1580.8,1311.8,1591.5,1317.9,1584.8],
[4,1319.8,1571.4,1315.4,1562.6,1310.6,1567.4,1309.4,1576.8,1313,1586,1317.9,1579.5],
[5,1317.4,1571.4,1313.7,1564.7,1310.6,1571.4,1313.7,1580.8],
[2,1302,1571.4,1297.2,1558,1292.3,1558,1289.9,1575.4,1291.1,1594,1296,1605,1300.8,1594],
[3,1300.3,1571.4,1297.2,1560.7,1292.3,1563.4,1290.6,1575.4,1293.5,1591.5,1297.2,1594,1299.6,1583.5],
[4,1299.6,1571.4,1296,1563.4,1291.6,1570,1292.3,1579.5,1296,1588.8,1298.9,1579.5],
[5,1298.4,1571.4,1295.5,1566,1293,1572.8,1294.7,1580.8,1297.6,1579.5],
[6,1297,1571.4,1295.5,1568.7,1294,1573.3,1295.5,1579.5],
[1,1283.8,1567.4,1277.7,1558,1270.4,1554,1260.6,1564.7,1255.8,1580.8,1257,1605,1261.8,1622.3,1271.6,1623.7,1277.7,1618.3,1281.3,1602,1282.5,1586],
[2,1280,1572.8,1275.2,1560.7,1269.6,1557.2,1261.8,1568.7,1258.2,1583.5,1260.6,1599.6,1268,1610.3,1275.2,1605,1278.9,1591.5],
[3,1277.7,1572.8,1274,1563.4,1269,1559.4,1263,1570,1260.6,1583.5,1264.3,1596.9,1269,1602.2,1274,1596.9,1277.7,1586],
[4,1276.5,1574,1272.8,1566,1268.7,1562,1264.3,1571.4,1261.8,1583.5,1265.5,1592.9,1269.6,1596.9,1274.5,1591.5],
[5,1276,1575.4,1272,1567.4,1267.9,1566,1264.8,1574,1263.5,1583.5,1266.7,1590.2,1270.4,1592.9,1274.5,1586],
[6,1274.5,1576.8,1271.6,1568.7,1268,1570,1265.5,1579.5,1268,1587.5,1271.6,1588.8,1274,1583.5],
[7,1273.5,1576.8,1271,1571.4,1268.4,1575.4,1268,1582,1271,1584.8,1273.3,1582],
[8,1272,1576.8,1270.6,1574,1269,1578,1270.9,1581.3],
[1,1250.9,1594,1246,1580.8,1241,1575.4,1235,1580.8,1232.6,1599.6,1236.3,1623.7,1244.8,1622.3,1249.7,1615.6],
[2,1244.8,1588.8,1240,1578,1235.5,1588.8,1236.3,1599.6,1240.4,1606,1244.3,1599.6],
[1,1222.9,1567.4,1216.7,1554,1209.5,1554,1204.6,1570,1204.6,1586,1209.5,1602,1210.6,1615.6,1215.5,1614.3,1220.4,1605,1222.9,1586],
[2,1218,1572.8,1214.3,1559.4,1209.5,1562,1207,1575.4,1209.5,1590.2,1214.3,1595.5,1217.5,1586],
[3,1215,1572.8,1213,1567.4,1210.6,1572.8,1211.9,1583.5,1214.3,1584.8]
];

var row1670Right = [
[-1,1322.8,1641,1319,1635,1305.7,1634.4,1294.7,1632.3,1286.2,1641,1287.4,1650.5,1291.1,1654.5,1310.6,1654.5,1320.3,1651.8],
[-2,1299.6,1645.7,1295.5,1641,1291.8,1645.7,1296,1650.5],
[-1,1282.6,1643.8,1271.6,1631.7,1261.8,1634.4,1244.8,1634.4,1213.1,1633,1205.8,1642.4,1210.6,1653,1242.4,1654.5,1269,1655.8],
[-2,1278.9,1645,1270.4,1635.7,1257,1645,1269,1653],
[-3,1275.2,1645,1269.6,1639.8,1262.3,1645.7,1270.4,1650.5],
[-2,1253.3,1645.7,1242.4,1638.4,1232.6,1643.8,1238.7,1651],
[-3,1245.3,1645.7,1241.9,1643.8,1238.7,1646,1242.4,1647.8],
[1,1324.7,1674.6,1322.8,1662.5,1305.7,1658.5,1288.6,1662.5,1283.8,1658.5,1257,1655.8,1232.6,1657,1205.8,1658.5,1202.1,1669.2,1208.2,1696,1230,1709.4,1257,1714.8,1281.3,1706.8,1286.2,1698.7,1296,1706.8,1305.7,1698.7,1317.9,1701.4,1322.8,1693.4],
[2,1319,1677.3,1316.7,1666.6,1308,1669.2,1303.3,1673.3,1299.6,1664,1292.3,1665.2,1287.4,1674.6,1288.6,1693.4,1296,1694.7,1305.7,1689.3,1315.4,1689.3],
[3,1298.9,1680,1296,1672.5,1293,1680,1296,1686.7],
[2,1282.6,1674.6,1276.5,1661.2,1257,1659.9,1232.6,1661.2,1227.7,1674.6,1230,1690.7,1257,1698.7,1276.5,1693.4],
[3,1279,1678.6,1274,1663.9,1261.8,1662.5,1257,1669.2,1244.8,1662.5,1232.6,1669.2,1231.4,1682.6,1244.8,1693.4,1257,1688,1271.6,1694.7],
[4,1276.5,1678.6,1271.6,1666.6,1261.8,1669.2,1258.2,1680,1263,1689.3,1272.8,1689.3],
[5,1274,1678.6,1270.4,1669.2,1264.3,1673.3,1263,1681.3,1266.7,1686.7,1272,1685.3],
[4,1250.9,1678.6,1244.8,1665.2,1236.3,1668,1232.6,1678.6,1237.5,1689.3,1246,1689.3],
[5,1247.7,1678.6,1243.6,1669.2,1237.5,1674.6,1236.3,1681.3,1241,1686.7,1246,1685.3]
];

// these run off the frame so they stay open
var openContours = [
[1,1587,1180.3,1585,1193,1574,1199,1549.5,1201,1546,1193,1554,1180.3],
[1,1412,1180.3,1410.5,1191,1400.7,1196,1371.5,1198,1365,1191,1366.6,1180.3],
[1,1280,1180.3,1279,1193,1271.6,1203,1260.6,1199,1254,1180.3],
[-1,1181,1227.7,1192.4,1227.7,1199.7,1235,1201,1245.7,1196,1256.4,1188.7,1261.7,1181,1263.6],
[-1,1181.4,1367.8,1193.6,1362.4,1199.7,1369,1199.7,1396,1196,1408,1181.4,1409.3],
[-1,1181.4,1546.5,1196,1546.5,1203.4,1552.7,1199.7,1578,1193.6,1587.5,1181.4,1585.6],
[-1,1397,1724.9,1393,1723,1390,1724.9],
[-1,1255,1724.9,1248,1723,1241,1724.9]
];

var closedContours = [].concat(row1250Left, row1250Centre, row1250Mid, row1250Right,
    row1400Left, row1400Mid, row1400Right,
    row1570Left, row1570Mid, row1570Right, row1670Left, row1670Right);

var jetColor = function (value, lo, hi, pale) {
    var t = (value - lo) / (hi - lo);
    var canal = function (c) {
        var v = Math.max(0, Math.min(1, 1.5 - Math.abs(4 * t - c)));
        return Math.round((v * (1 - pale) + pale) * 255);
    };
    return "rgb(" + canal(3) + "," + canal(2) + "," + canal(1) + ")";
};

// the inner rings of the strong peaks climb faster than the outer ones
var levelValue = function (level) {
    var n = Math.abs(level);
    var v = Math.min(n, 5) * levelStep + Math.max(n - 5, 0) * deepLevelStep;
    return level < 0 ? -v : v;
};

var versPoints = function (contour) {
    var pts = [];
    for (let i = 1; i < contour.length; i += 2) {
        pts.push({x: contour[i], y: contour[i + 1]});
    }
    return pts;
};

var datasets = [];

for (let i = 0; i < helixShifts.length; i++) {
    datasets.push({
        data: [{x: helixShifts[i], y: yRange[0]}, {x: helixShifts[i], y: yRange[1]}],
        borderColor: "#000",
        borderWidth: 3,
        borderDash: [9, 5],
        tension: 0,
        order: 0
    });
}

for (let i = 0; i < closedContours.length; i++) {
    var pts = versPoints(closedContours[i]);
    // one point more at each end so the spline closes without a corner
    var ferme = [pts[pts.length - 1]].concat(pts, [pts[0], pts[1]]);
    datasets.push({
        data: ferme,
        borderColor: jetColor(levelValue(closedContours[i][0]), barRange[0], barRange[1], 0.35),
        borderWidth: 1,
        tension: 0.45,
        order: 1
    });
}

for (let i = 0; i < openContours.length; i++) {
    datasets.push({
        data: versPoints(openContours[i]),
        borderColor: jetColor(levelValue(openContours[i][0]), barRange[0], barRange[1], 0.35),
        borderWidth: 1,
        tension: 0.4,
        order: 1
    });
}

// frame and inward ticks, as the library only draws ticks outward
var cadrePlugin = {
    id: "cadre",
    afterDraw: function (chart) {
        var ctx = chart.ctx;
        var a = chart.chartArea;
        ctx.save();
        ctx.lineWidth = 1;
        ctx.strokeStyle = chart.options.plugins.cadre.couleur;
        chart.scales.y.ticks.forEach(function (t) {
            var py = Math.round(chart.scales.y.getPixelForValue(t.value)) + 0.5;
            ctx.beginPath();
            ctx.moveTo(a.left, py);
            ctx.lineTo(a.left + 7, py);
            ctx.moveTo(a.right, py);
            ctx.lineTo(a.right - 7, py);
            ctx.stroke();
        });
        if (chart.scales.x.ticks && chart.options.plugins.cadre.ticksX) {
            chart.scales.x.ticks.forEach(function (t) {
                var px = Math.round(chart.scales.x.getPixelForValue(t.value)) + 0.5;
                ctx.beginPath();
                ctx.moveTo(px, a.bottom);
                ctx.lineTo(px, a.bottom - 7);
                ctx.moveTo(px, a.top);
                ctx.lineTo(px, a.top + 7);
                ctx.stroke();
            });
        }
        ctx.strokeStyle = "#8c8c8c";
        ctx.strokeRect(a.left, a.top, a.right - a.left, a.bottom - a.top);
        ctx.restore();
    }
};

// arrows from the top of each dashed line to its label
var arrowTips = [[594, 91], [717, 76], [792.7, 57], [849, 76], [899, 76], [899, 76]];
var flechesPlugin = {
    id: "fleches",
    afterDraw: function (chart) {
        var ctx = chart.ctx;
        ctx.save();
        ctx.strokeStyle = "#000";
        ctx.lineWidth = 2;
        helixShifts.forEach(function (shift, i) {
            var sx = chart.scales.x.getPixelForValue(shift);
            var sy = chart.chartArea.top;
            var tx = arrowTips[i][0];
            var ty = arrowTips[i][1];
            var ang = Math.atan2(ty - sy, tx - sx);
            ctx.beginPath();
            ctx.moveTo(sx, sy);
            ctx.lineTo(tx, ty);
            ctx.moveTo(tx - 17 * Math.cos(ang - 0.5), ty - 17 * Math.sin(ang - 0.5));
            ctx.lineTo(tx, ty);
            ctx.lineTo(tx - 17 * Math.cos(ang + 0.5), ty - 17 * Math.sin(ang + 0.5));
            ctx.stroke();
        });
        ctx.restore();
    }
};

var policeAxe = {family: "'Liberation Serif', serif", size: 42};

new Chart(document.getElementById("graphContour").getContext("2d"), {
    type: "scatter",
    data: {datasets: datasets},
    plugins: [cadrePlugin, flechesPlugin],
    options: {
        responsive: false,
        animation: false,
        showLine: true,
        layout: {padding: {top: 128.5, right: 157, bottom: 0, left: 0}},
        elements: {point: {radius: 0, hitRadius: 0}},
        plugins: {
            legend: {display: false},
            tooltip: {enabled: false},
            cadre: {couleur: "#9a9a9a", ticksX: true}
        },
        scales: {
            x: {
                type: "linear",
                reverse: true,
                min: xRange[0],
                max: xRange[1],
                afterFit: function (scale) { scale.height = 101; },
                grid: {display: false, drawTicks: false},
                border: {display: false},
                ticks: {stepSize: xTickStep, includeBounds: false, maxRotation: 0, autoSkip: false, padding: 5, color: "#000", font: policeAxe,
                    callback: function (v) { return String(v); }}
            },
            y: {
                type: "linear",
                reverse: true,
                min: yRange[0],
                max: yRange[1],
                afterFit: function (scale) { scale.width = 151.5; },
                grid: {display: false, drawTicks: false},
                border: {display: false},
                ticks: {stepSize: yTickStep, includeBounds: false, autoSkip: false, padding: 5, color: "#000", font: policeAxe,
                    callback: function (v) { return String(v); }},
                title: {display: true, text: "Raman shift", color: "#000", font: policeAxe, padding: {top: 5, bottom: 0}}
            }
        }
    }
});

// colour bar
var barSets = [];
for (let i = 0; i < barSteps; i++) {
    var bas = barRange[0] + (barRange[1] - barRange[0]) * i / barSteps;
    var haut = barRange[0] + (barRange[1] - barRange[0]) * (i + 1) / barSteps;
    barSets.push({
        data: [[bas, haut]],
        backgroundColor: jetColor((bas + haut) / 2, barRange[0], barRange[1], 0),
        borderWidth: 0,
        barPercentage: 1,
        categoryPercentage: 1,
        grouped: false
    });
}

new Chart(document.getElementById("graphBar").getContext("2d"), {
    type: "bar",
    data: {labels: ["x"], datasets: barSets},
    plugins: [cadrePlugin],
    options: {
        responsive: false,
        animation: false,
        layout: {padding: {top: 129, right: 0, bottom: 101, left: 0}},
        plugins: {
            legend: {display: false},
            tooltip: {enabled: false},
            cadre: {couleur: "rgba(60,60,60,0.7)", ticksX: false}
        },
        scales: {
            x: {display: false},
            y: {
                position: "right",
                min: barRange[0],
                max: barRange[1],
                afterFit: function (scale) { scale.width = 94; },
                grid: {display: false, drawTicks: false},
                border: {display: false},
                ticks: {stepSize: barTickStep, includeBounds: false, padding: 6, color: "#000", font: policeAxe,
                    callback: function (v) { return String(v); }}
            }
        }
    }
});
</script>
</body>
</html>
